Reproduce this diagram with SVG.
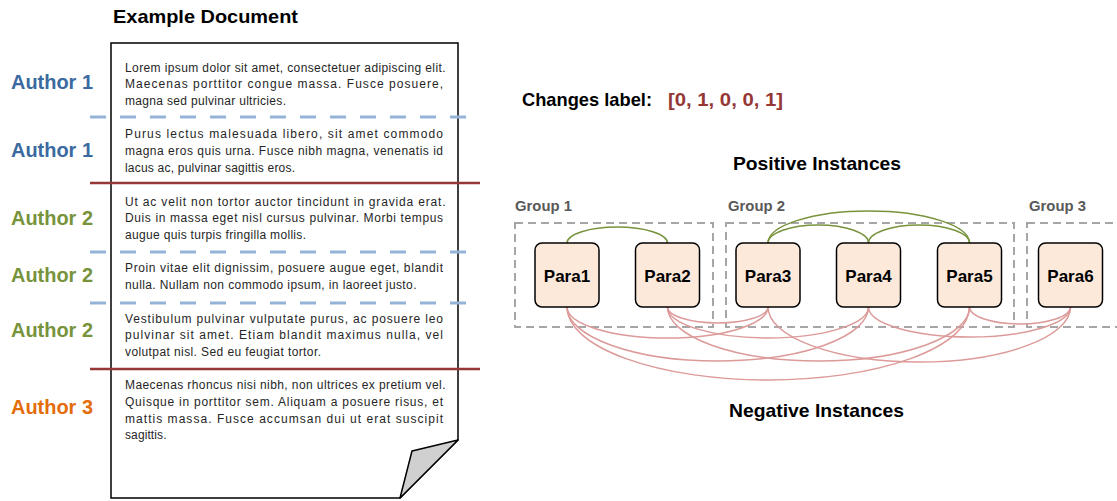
<svg xmlns="http://www.w3.org/2000/svg" width="1117" height="501" viewBox="0 0 1117 501">
<style>
.t{font-family:"Liberation Sans",Arial,sans-serif;font-size:12px;fill:#262626}
.au{font-family:"Liberation Sans",Arial,sans-serif;font-size:20px;font-weight:bold}
.h{font-family:"Liberation Sans",Arial,sans-serif;font-size:19px;font-weight:bold;fill:#000}
.g{font-family:"Liberation Sans",Arial,sans-serif;font-size:15px;font-weight:bold;fill:#595959}
.p{font-family:"Liberation Sans",Arial,sans-serif;font-size:17px;font-weight:bold;fill:#000;text-anchor:middle}
.node{fill:#fde9d9;stroke:#000;stroke-width:1.5}
.grp{fill:none;stroke:#a6a6a6;stroke-width:2;stroke-dasharray:8 5}
.pos{fill:none;stroke:#77933c;stroke-width:1.5}
.neg{fill:none;stroke:#dc9a99;stroke-width:1.5}
.bl{stroke:#95b3d7;stroke-width:3;stroke-dasharray:16 14}
.rd{stroke:#953735;stroke-width:2.5}
</style>
<rect width="1117" height="501" fill="#fff"/>
<text class="h" x="113" y="23" textLength="185" lengthAdjust="spacingAndGlyphs">Example Document</text>
<g id="document">
<path d="M111,43 H458 V440 L400,498 H111 Z" fill="#fff" stroke="#000" stroke-width="1.5"/>
<path d="M458,440 L412,451 L400,498 Z" fill="#d0d0d0" stroke="#000" stroke-width="1.5" stroke-linejoin="round"/>
</g>
<g id="dividers">
<line class="bl" x1="90" y1="117" x2="480" y2="117"/>
<line class="rd" x1="90" y1="183" x2="480" y2="183"/>
<line class="bl" x1="90" y1="252" x2="480" y2="252"/>
<line class="bl" x1="90" y1="303" x2="480" y2="303"/>
<line class="rd" x1="90" y1="369" x2="480" y2="369"/>
</g>
<g id="authors">
<text class="au" x="11" y="89" fill="#3b6aa0" textLength="82" lengthAdjust="spacingAndGlyphs">Author 1</text>
<text class="au" x="11" y="157" fill="#3b6aa0" textLength="82" lengthAdjust="spacingAndGlyphs">Author 1</text>
<text class="au" x="11" y="225" fill="#77933c" textLength="82" lengthAdjust="spacingAndGlyphs">Author 2</text>
<text class="au" x="11" y="282" fill="#77933c" textLength="82" lengthAdjust="spacingAndGlyphs">Author 2</text>
<text class="au" x="11" y="337" fill="#77933c" textLength="82" lengthAdjust="spacingAndGlyphs">Author 2</text>
<text class="au" x="11" y="414" fill="#e46c0a" textLength="82" lengthAdjust="spacingAndGlyphs">Author 3</text>
</g>
<g id="doc-text">
<text class="t" x="125" y="71.5" textLength="320.5" lengthAdjust="spacing">Lorem ipsum dolor sit amet, consectetuer adipiscing elit.</text>
<text class="t" x="125" y="88" textLength="318" lengthAdjust="spacing">Maecenas porttitor congue massa. Fusce posuere,</text>
<text class="t" x="125" y="104.7" textLength="161" lengthAdjust="spacing">magna sed pulvinar ultricies.</text>
<text class="t" x="125" y="138.3" textLength="318" lengthAdjust="spacing">Purus lectus malesuada libero, sit amet commodo</text>
<text class="t" x="125" y="155" textLength="318" lengthAdjust="spacing">magna eros quis urna. Fusce nibh magna, venenatis id</text>
<text class="t" x="125" y="171.7" textLength="170" lengthAdjust="spacing">lacus ac, pulvinar sagittis eros.</text>
<text class="t" x="125" y="205.7" textLength="320.5" lengthAdjust="spacing">Ut ac velit non tortor auctor tincidunt in gravida erat.</text>
<text class="t" x="125" y="222.3" textLength="318" lengthAdjust="spacing">Duis in massa eget nisl cursus pulvinar. Morbi tempus</text>
<text class="t" x="125" y="239" textLength="181" lengthAdjust="spacing">augue quis turpis fringilla mollis.</text>
<text class="t" x="125" y="272.3" textLength="318" lengthAdjust="spacing">Proin vitae elit dignissim, posuere augue eget, blandit</text>
<text class="t" x="125" y="289" textLength="291.5" lengthAdjust="spacing">nulla. Nullam non commodo ipsum, in laoreet justo.</text>
<text class="t" x="125" y="322.7" textLength="318" lengthAdjust="spacing">Vestibulum pulvinar vulputate purus, ac posuere leo</text>
<text class="t" x="125" y="339.3" textLength="318" lengthAdjust="spacing">pulvinar sit amet. Etiam blandit maximus nulla, vel</text>
<text class="t" x="125" y="356" textLength="196" lengthAdjust="spacing">volutpat nisl. Sed eu feugiat tortor.</text>
<text class="t" x="125" y="389.3" textLength="320.5" lengthAdjust="spacing">Maecenas rhoncus nisi nibh, non ultrices ex pretium vel.</text>
<text class="t" x="125" y="406" textLength="318" lengthAdjust="spacing">Quisque in porttitor sem. Aliquam a posuere risus, et</text>
<text class="t" x="125" y="422.7" textLength="318" lengthAdjust="spacing">mattis massa. Fusce accumsan dui ut erat suscipit</text>
<text class="t" x="125" y="439.3" textLength="41.5" lengthAdjust="spacing">sagittis.</text>
</g>
<g id="labels">
<text class="h" x="522" y="106" textLength="130" lengthAdjust="spacingAndGlyphs">Changes label:</text>
<text class="h" x="668" y="106" fill="#953735" style="fill:#953735" textLength="115" lengthAdjust="spacingAndGlyphs">[0, 1, 0, 0, 1]</text>
<text class="h" x="733" y="170" textLength="168" lengthAdjust="spacingAndGlyphs">Positive Instances</text>
<text class="h" x="729" y="417" textLength="175" lengthAdjust="spacingAndGlyphs">Negative Instances</text>
</g>
<g id="groups">
<g id="group1"><rect class="grp" x="515" y="223" width="198" height="104"/><text class="g" x="515" y="211" textLength="57" lengthAdjust="spacingAndGlyphs">Group 1</text></g>
<g id="group2"><rect class="grp" x="726" y="223" width="288" height="104"/><text class="g" x="728" y="211" textLength="57" lengthAdjust="spacingAndGlyphs">Group 2</text></g>
<g id="group3"><rect class="grp" x="1027" y="223" width="100" height="104"/><text class="g" x="1029" y="211" textLength="57" lengthAdjust="spacingAndGlyphs">Group 3</text></g>
</g>
<g id="connectors">
<path class="pos" d="M567,243 A50.25,16 0 0 1 667.5,243"/>
<path class="pos" d="M768,243 A50.25,18 0 0 1 868.5,243"/>
<path class="pos" d="M868.5,243 A50.5,18 0 0 1 969.5,243"/>
<path class="pos" d="M768,243 A100.75,32 0 0 1 969.5,243"/>
<path class="neg" d="M667.5,307 A50.25,16 0 0 0 768,307"/>
<path class="neg" d="M969.5,307 A50.5,17 0 0 0 1070.5,307"/>
<path class="neg" d="M567,307 A100.5,31 0 0 0 768,307"/>
<path class="neg" d="M667.5,307 A100.5,31 0 0 0 868.5,307"/>
<path class="neg" d="M868.5,307 A101,30 0 0 0 1070.5,307"/>
<path class="neg" d="M567,307 A150.75,54 0 0 0 868.5,307"/>
<path class="neg" d="M667.5,307 A151,54 0 0 0 969.5,307"/>
<path class="neg" d="M768,307 A151.25,55 0 0 0 1070.5,307"/>
<path class="neg" d="M567,307 A201.25,73 0 0 0 969.5,307"/>
</g>
<g id="para1"><rect class="node" x="535" y="243" width="64" height="64" rx="7"/><text class="p" x="567" y="282">Para1</text></g>
<g id="para2"><rect class="node" x="635.5" y="243" width="64" height="64" rx="7"/><text class="p" x="667.5" y="282">Para2</text></g>
<g id="para3"><rect class="node" x="736" y="243" width="64" height="64" rx="7"/><text class="p" x="768" y="282">Para3</text></g>
<g id="para4"><rect class="node" x="836.5" y="243" width="64" height="64" rx="7"/><text class="p" x="868.5" y="282">Para4</text></g>
<g id="para5"><rect class="node" x="937.5" y="243" width="64" height="64" rx="7"/><text class="p" x="969.5" y="282">Para5</text></g>
<g id="para6"><rect class="node" x="1038.5" y="243" width="64" height="64" rx="7"/><text class="p" x="1070.5" y="282">Para6</text></g>
</svg>
